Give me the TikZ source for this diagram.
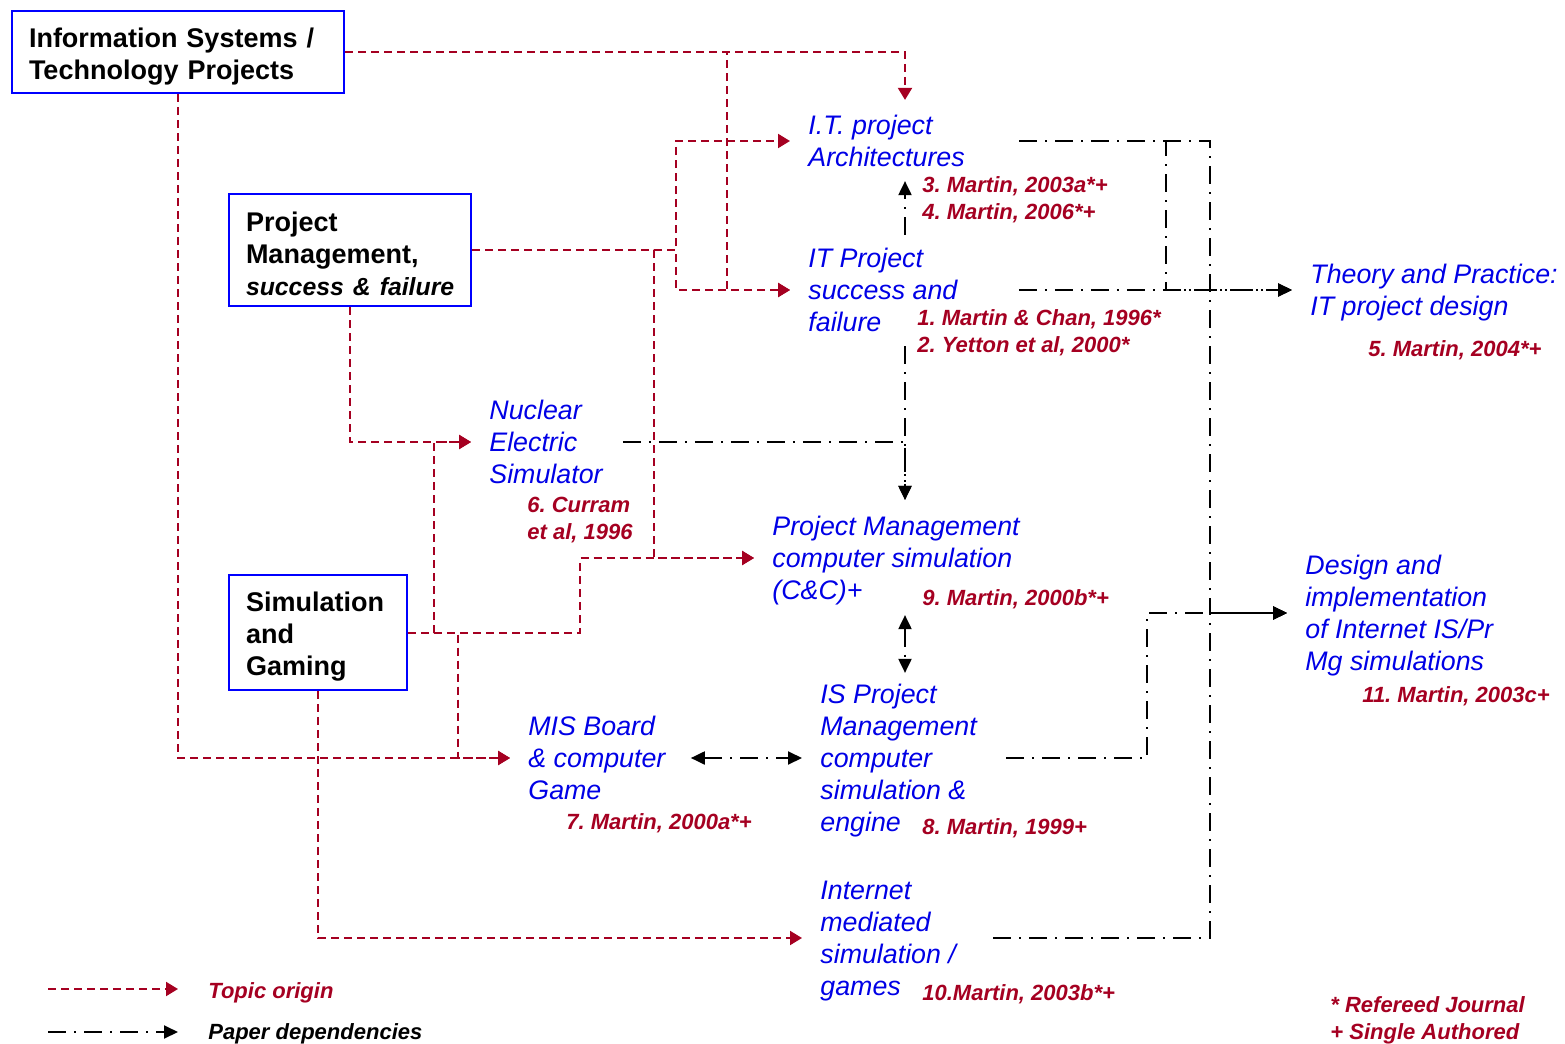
\documentclass[tikz,border=0pt]{standalone}
\usepackage{fontspec}
\setmainfont{Liberation Sans}
\usetikzlibrary{arrows.meta}
\frenchspacing

\definecolor{boxblue}{RGB}{0,0,255}
\definecolor{topicblue}{RGB}{0,0,230}
\definecolor{refred}{RGB}{165,0,33}

\tikzset{
  topictip/.tip={Triangle[length=6pt,width=7pt]},
  deptip/.tip={Triangle[length=7pt,width=6.5pt]},
  srcbox/.style={draw=boxblue, line width=1pt, align=left, inner xsep=8.5pt, inner ysep=0pt,
    font=\fontsize{13.5}{16}\selectfont\bfseries, execute at begin node={\rule{0pt}{14pt}}},
  topic/.style={text=topicblue, align=left, inner xsep=9pt, inner ysep=0pt, anchor=west,
    text depth=0pt, font=\fontsize{13.4}{16}\selectfont\itshape},
  paper/.style={text=refred, align=left, inner sep=0pt, anchor=west,
    text depth=0pt, font=\fontsize{11}{13.5}\selectfont\bfseries\itshape},
  topicline/.style={draw=refred, line width=1pt, dash pattern=on 4pt off 2.5pt, -topictip},
  depline/.style={draw=black, line width=1pt, dash pattern=on 9pt off 4pt on 1pt off 4pt, -deptip}
}

\begin{document}
\begin{tikzpicture}[x=0.5pt, y=-0.5pt]
    \useasboundingbox (0,0) rectangle (1565,1044);

    % origin topics
    \node[srcbox, text width=149pt, minimum height=41pt] (istp) at (178,52) {Information Systems /\\Technology Projects};
    \node[srcbox, text width=104pt, minimum height=56pt] (pm) at (350,250) {Project\\Management,\\\textit{\fontsize{12.4}{16}\selectfont\mbox{success \& failure}}};
    \node[srcbox, text width=72pt, minimum height=57.5pt] (sg) at (318,632.5) {Simulation\\and\\Gaming};

    % papers
    \node[topic] (itarch) at (790,141) {I.T. project\\Architectures};
    \node[topic] (itsf) at (790,290) {IT Project\\success and\\failure};
    \node[topic] (nuclear) at (471,442) {Nuclear\\Electric\\Simulator};
    \node[topic] (pmsim) at (754,558) {Project Management\\computer simulation\\(C\&C)+};
    \node[topic] (ispm) at (802,758) {IS Project\\Management\\computer\\simulation \&\\engine};
    \node[topic] (mis) at (510,758) {MIS Board\\\& computer\\Game};
    \node[topic] (internet) at (802,938) {Internet\\mediated\\simulation /\\games};
    \node[topic] (theory) at (1292,290) {Theory and Practice:\\IT project design};
    \node[topic] (design) at (1287,613) {Design and\\implementation\\of Internet IS/Pr\\Mg simulations};

    % references
    \node[paper] (r34) at (922,198) {3. Martin, 2003a*+\\4. Martin, 2006*+};
    \node[paper] (r12) at (917,331.5) {1. Martin \& Chan, 1996*\\2. Yetton et al, 2000*};
    \node[paper] (r5) at (1368,349) {5. Martin, 2004*+};
    \node[paper] (r6) at (527,518) {6. Curram\\et al, 1996};
    \node[paper] (r9) at (922,598) {9. Martin, 2000b*+};
    \node[paper] (r7) at (566,822) {7. Martin, 2000a*+};
    \node[paper] (r8) at (922,827) {8. Martin, 1999+};
    \node[paper] (r10) at (922,993) {10.Martin, 2003b*+};
    \node[paper] (r11) at (1362,695) {11. Martin, 2003c+};
    \node[paper] (notes) at (1330,1018.5) {* Refereed Journal\\+ Single Authored};

    % legend
    \node[paper] (lgtopic) at (208,991) {Topic origin};
    \node[paper, text=black] (lgdep) at (208,1032) {Paper dependencies};

    % junction columns
    \coordinate (xa) at (727,0);
    \coordinate (xb) at (676,0);
    \coordinate (xc) at (654,0);
    \coordinate (xd) at (580,0);
    \coordinate (xe) at (434,0);
    \coordinate (xf) at (458,0);
    \coordinate (xg) at (1166,0);
    \coordinate (xh) at (1147,0);
    \coordinate (xi) at (1210,0);
    \coordinate (xmid) at (905,0);

    % topic origin
    \draw[topicline] (istp.east) -| ([yshift=7.5pt]xmid |- itarch.north);
    \draw[topicline] (istp.east) -| (xa |- itsf.west) -- (itsf.west);
    \draw[topicline] (pm.east) -| (xb |- itarch.west) -- (itarch.west);
    \draw[topicline] (pm.east) -| (xb |- itsf.west) -- (itsf.west);
    \draw[topicline] (pm.east) -| (xc |- pmsim.west) -- (pmsim.west);
    \draw[topicline] (pm.south) |- (nuclear.west);
    \draw[topicline] (istp.south) |- (mis.west);
    \draw[topicline] (sg.east) -| (xd |- pmsim.west) -- (pmsim.west);
    \draw[topicline] (sg.east) -| (xe |- nuclear.west) -- (nuclear.west);
    \draw[topicline] (sg.east) -| (xf |- mis.west) -- (mis.west);
    \draw[topicline] (sg.south) |- (internet.west);

    % paper dependencies
    \draw[depline, shorten <=6.5pt, shorten >=7pt] (xmid |- itsf.north) -- (xmid |- itarch.south);
    \draw[depline, shorten <=7pt, shorten >=8pt] (xmid |- itsf.south) -- (xmid |- pmsim.north);
    \draw[depline] ([xshift=1pt]nuclear.east) -| ([yshift=8pt]xmid |- pmsim.north);
    \draw[depline, deptip-deptip, shorten <=7.5pt, shorten >=5.5pt] (xmid |- pmsim.south) -- (xmid |- ispm.north);
    \draw[depline, deptip-deptip] ([xshift=3.5pt]mis.east) -- (ispm.west);
    \draw[depline] ([xshift=18pt]itarch.east) -| (xg |- theory.west) -- (theory.west);
    \draw[depline] ([xshift=18pt]itarch.east) -| (xi |- design.west) -- (design.west);
    \draw[depline] ([xshift=21.5pt]itsf.east) -- (theory.west);
    \draw[depline] ([xshift=5.5pt]ispm.east) -| (xh |- design.west) -- (design.west);
    \draw[depline] ([xshift=9.5pt]internet.east) -| (xi |- design.west) -- (design.west);

    \draw[topicline] ([xshift=-80pt,yshift=1pt]lgtopic.west) -- ([xshift=-15pt,yshift=1pt]lgtopic.west);
    \draw[depline] ([xshift=-80pt]lgdep.west) -- ([xshift=-15pt]lgdep.west);
\end{tikzpicture}
\end{document}
